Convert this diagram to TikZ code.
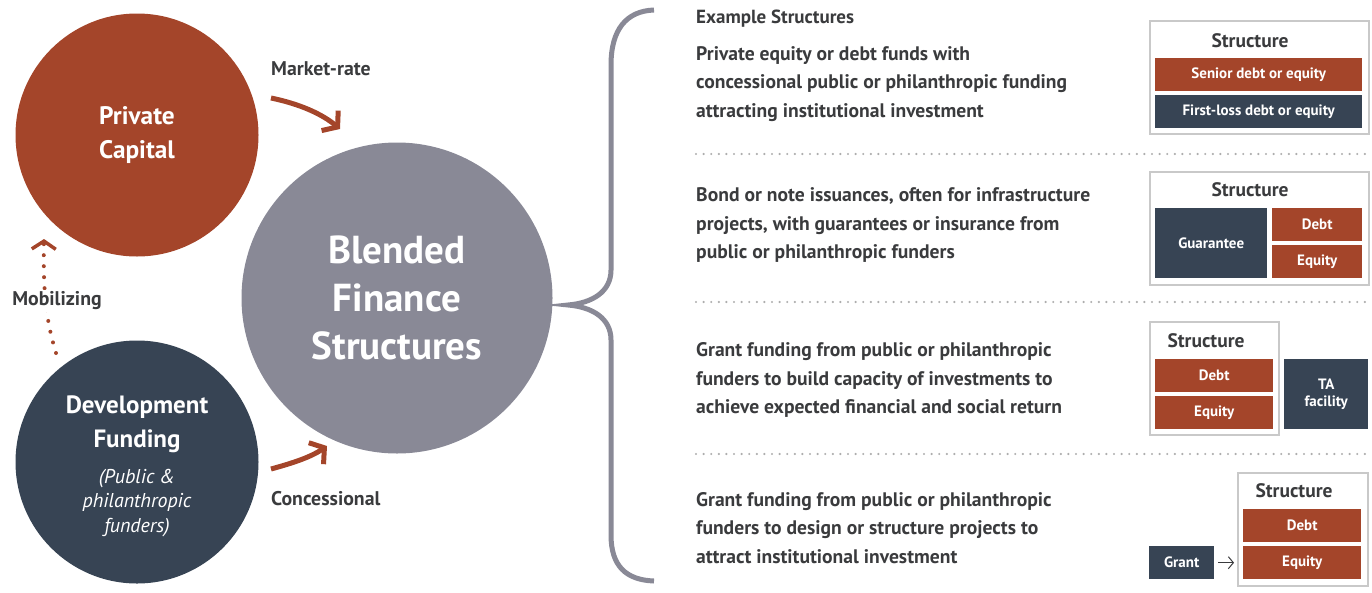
\documentclass[tikz,border=0pt]{standalone}
\usepackage{fontspec}
\setmainfont{PT Sans}
\usetikzlibrary{arrows.meta}
\definecolor{rust}{HTML}{A4452A}
\definecolor{slate}{HTML}{374454}
\definecolor{cgray}{HTML}{898996}
\definecolor{txt}{HTML}{3A3B3D}
\definecolor{boxline}{HTML}{C9C9C9}
\definecolor{dotc}{HTML}{ADADAD}
\begin{document}
\begin{tikzpicture}[x=1pt,y=-1pt,
  circ/.style={circle, inner sep=0pt, text=white, align=center},
  bodytext/.style={anchor=west, text=txt, align=left, inner sep=0pt,
    font=\bfseries\fontsize{19.6}{28.5}\selectfont},
  lbl/.style={text=txt, inner sep=0pt, font=\bfseries\fontsize{19.8}{22}\selectfont},
  sbox/.style={draw=boxline, line width=1.5pt, anchor=north west, minimum height=113pt, inner sep=0pt},
  stitle/.style={text=txt, inner sep=0pt, font=\bfseries\fontsize{19.5}{22}\selectfont},
  rbar/.style={fill=rust, anchor=north west, minimum height=33pt, inner sep=0pt, text=white, align=center,
    font=\bfseries\fontsize{15}{17}\selectfont},
  sbar/.style={rbar, fill=slate},
  rustarrow/.style={draw=rust, line width=5pt, -{Straight Barb[length=10pt,width=26pt,line width=5pt]}},
  sepline/.style={draw=dotc, line width=2.4pt, line cap=round, dash pattern=on 0pt off 7.6pt},
  brace/.style={draw=cgray, line width=5pt}
]
\useasboundingbox (0,0) rectangle (1372,592);
% circles
\node[circ, fill=rust, minimum size=243pt, font=\bfseries\fontsize{25.3}{34}\selectfont] (pc) at (137,135) {Private\\Capital};
\node[circ, fill=slate, minimum size=243pt] (df) at (137,462) {};
\node[text=white, align=center, font=\bfseries\fontsize{25}{34}\selectfont, inner sep=0pt] (dft) at (137,424) {Development\\Funding};
\node[text=white, align=center, font=\itshape\fontsize{20}{24.5}\selectfont, inner sep=0pt] (dfs) at (137,503) {(Public \&\\philanthropic\\funders)};
\node[circ, fill=cgray, minimum size=311pt, font=\bfseries\fontsize{39}{48}\selectfont] (bf) at (397,298) {Blended\\Finance\\Structures};
% arrows
\coordinate (mr1) at (271,98);
\coordinate (mr2) at (340,129);
\draw[rustarrow] (mr1) .. controls (300,104) and (322,114) .. (mr2);
\node[lbl, anchor=west] (mrl) at (271,69) {Market-rate};
\coordinate (cc1) at (271,469);
\coordinate (cc2) at (327,446);
\draw[rustarrow] (cc1) .. controls (293,463) and (311,457) .. (cc2);
\node[lbl, anchor=west] (ccl) at (271,499) {Concessional};
\coordinate (mb1) at (56,353);
\coordinate (mb2) at (44,239);
\draw[draw=rust, line width=4pt, line cap=round, dash pattern=on 0pt off 11pt,
  -{Straight Barb[length=8pt,width=24pt,line width=3.5pt]}] (mb1) .. controls (46,320) and (43,292) .. (mb2);
\node[lbl, fill=white, inner sep=2pt] (mbl) at (57,301) {Mobilizing};
% brace
\draw[brace] (654,10) .. controls (626,11) and (611,30) .. (611,65) -- (611,270)
  .. controls (611,292) and (592,303) .. (568,305)
  .. controls (592,307) and (611,318) .. (611,340) -- (611,535)
  .. controls (611,566) and (626,580) .. (654,581);
% right texts
\node[lbl, anchor=west, font=\bfseries\fontsize{19}{22}\selectfont] (ex) at (696,19) {Example Structures};
\node[bodytext] (t1) at (696,84) {Private equity or debt funds with\\concessional public or philanthropic funding\\attracting institutional investment};
\node[bodytext] (t2) at (696,225) {Bond or note issuances, often for infrastructure\\projects, with guarantees or insurance from\\public or philanthropic funders};
\node[bodytext] (t3) at (696,380) {Grant funding from public or philanthropic\\funders to build capacity of investments to\\achieve expected financial and social return};
\node[bodytext] (t4) at (696,528) {Grant funding from public or philanthropic\\funders to design or structure projects to\\attract institutional investment};
\draw[sepline] (696,154) -- (1372,154);
\draw[sepline] (696,302) -- (1372,302);
\draw[sepline] (696,454) -- (1372,454);
% structure 1
\node[sbox, minimum width=219pt] (s1) at (1149,20) {};
\node[stitle] (s1t) at (1250,41) {Structure};
\node[rbar, minimum width=207pt] (s1a) at (1155,58) {Senior debt or equity};
\node[sbar, minimum width=207pt] (s1b) at (1155,95) {First-loss debt or equity};
% structure 2
\node[sbox, minimum width=219pt] (s2) at (1149,171) {};
\node[stitle] (s2t) at (1250,190) {Structure};
\node[sbar, minimum width=112pt, minimum height=70pt] (s2g) at (1155,208) {Guarantee};
\node[rbar, minimum width=90pt] (s2d) at (1272,208) {Debt};
\node[rbar, minimum width=90pt] (s2e) at (1272,245) {Equity};
% structure 3
\node[sbox, minimum width=129pt] (s3) at (1149,321) {};
\node[stitle] (s3t) at (1206,341) {Structure};
\node[rbar, minimum width=118pt] (s3d) at (1155,359) {Debt};
\node[rbar, minimum width=118pt] (s3e) at (1155,396) {Equity};
\node[sbar, minimum width=84pt, minimum height=70pt, font=\bfseries\fontsize{15}{17.5}\selectfont] (s3ta) at (1284,359) {TA\\facility};
% structure 4
\node[sbox, minimum width=130pt] (s4) at (1237,472) {};
\node[stitle] (s4t) at (1294,491) {Structure};
\node[rbar, minimum width=118pt] (s4d) at (1243,509) {Debt};
\node[rbar, minimum width=118pt] (s4e) at (1243,546) {Equity};
\node[sbar, minimum width=65pt] (gr) at (1149,546) {Grant};
\draw[draw=txt, line width=1pt, -{Straight Barb[length=5pt,width=12pt]}, shorten <=4pt, shorten >=3pt] (gr.east) -- (s4.west |- gr.east);
\end{tikzpicture}
\end{document}
